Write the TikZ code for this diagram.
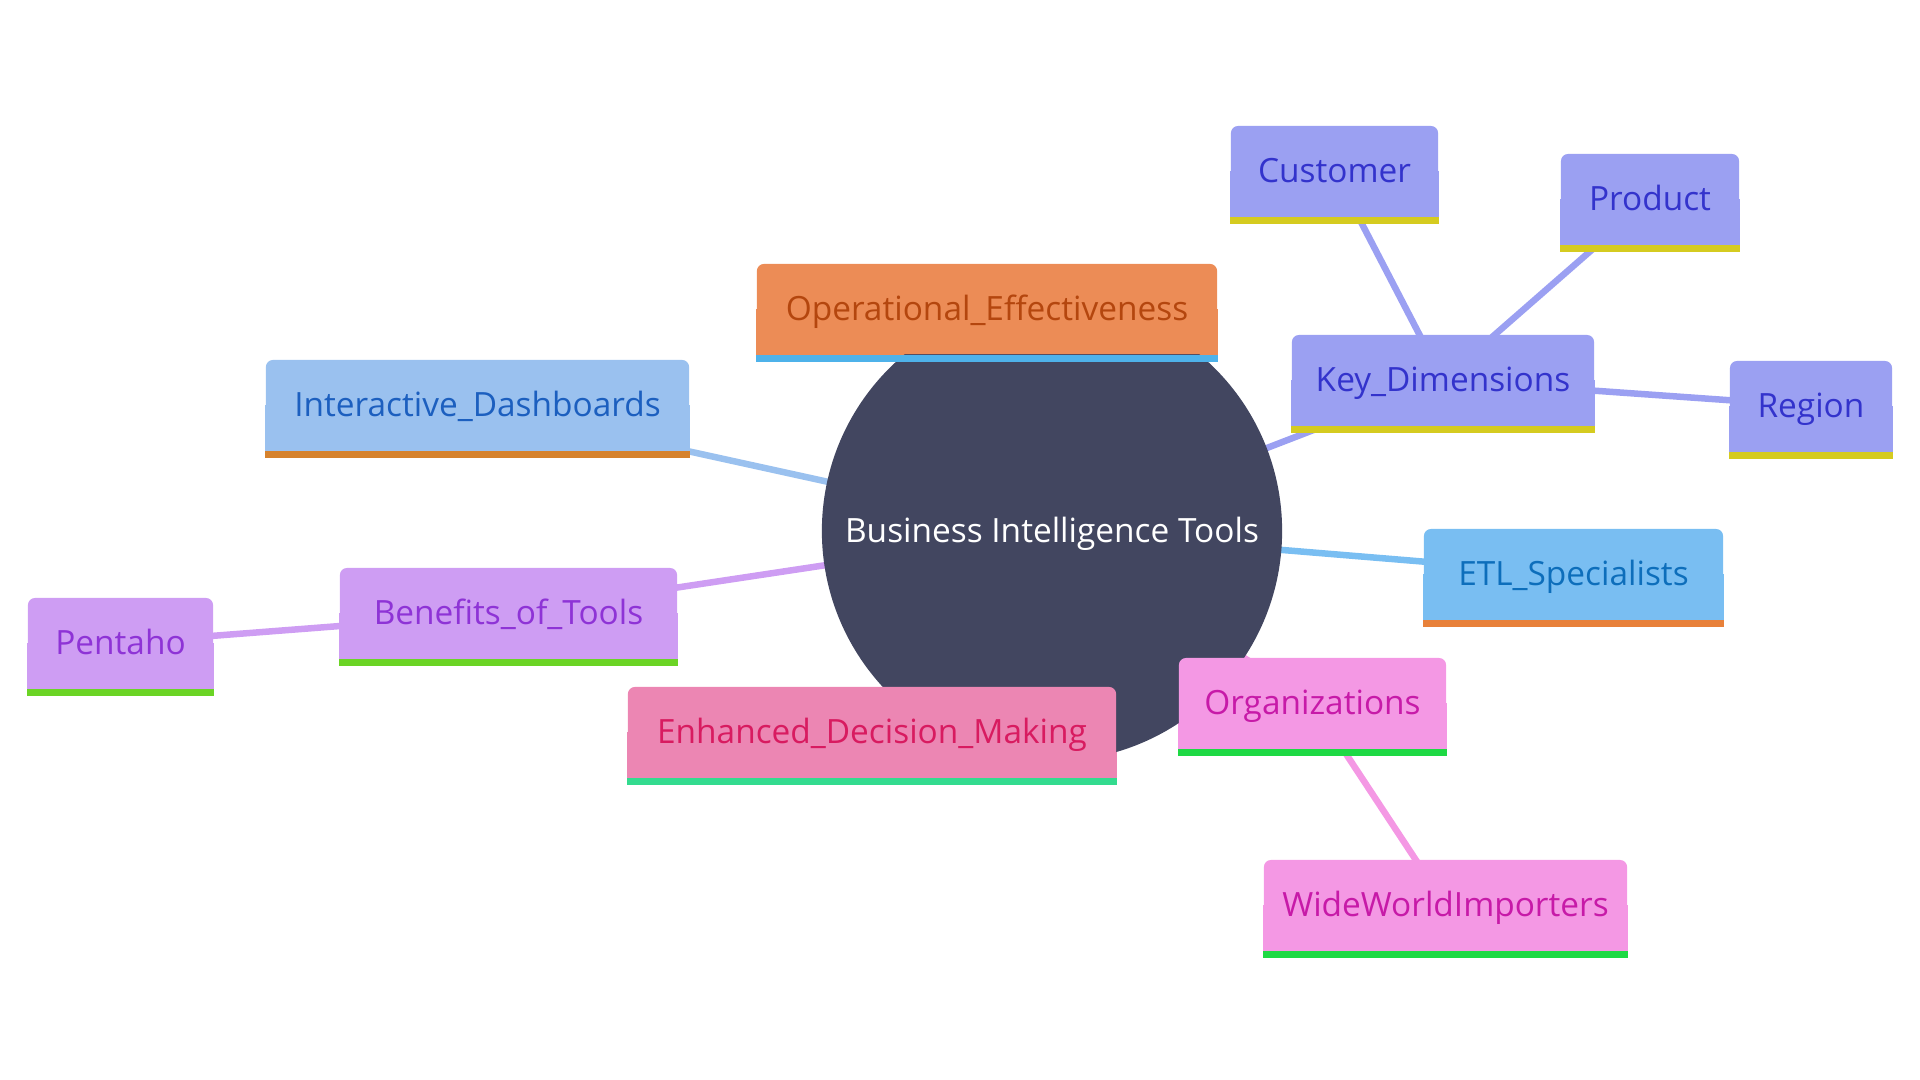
\documentclass[tikz,border=0pt]{standalone}
\usepackage{fontspec}
\setmainfont{Open Sans}
\usetikzlibrary{backgrounds}
\definecolor{bicircle}{HTML}{424660}
\definecolor{opsfill}{HTML}{EC8C56}
\definecolor{opstext}{HTML}{B4460E}
\definecolor{opsline}{HTML}{4EB2EA}
\definecolor{dashfill}{HTML}{9AC1EF}
\definecolor{dashtext}{HTML}{1C5FBF}
\definecolor{dashline}{HTML}{D6822D}
\definecolor{keyfill}{HTML}{9BA0F2}
\definecolor{keytext}{HTML}{3333CC}
\definecolor{keyline}{HTML}{D5CB20}
\definecolor{etlfill}{HTML}{79BEF2}
\definecolor{etltext}{HTML}{0D6EBB}
\definecolor{etlline}{HTML}{E8813A}
\definecolor{benfill}{HTML}{CE9DF3}
\definecolor{bentext}{HTML}{8E33D6}
\definecolor{benline}{HTML}{6BD425}
\definecolor{edmfill}{HTML}{EC86B3}
\definecolor{edmtext}{HTML}{D81B60}
\definecolor{edmline}{HTML}{33DB8F}
\definecolor{orgfill}{HTML}{F498E4}
\definecolor{orgtext}{HTML}{C71AA8}
\definecolor{orgline}{HTML}{1ED944}

\begin{document}
\begin{tikzpicture}[x=0.01cm, y=-0.01cm, line cap=round,
  every node/.style={inner sep=0pt, text height=6.8pt, text depth=0pt,
    font=\fontsize{9.5}{11}\selectfont},
  mmbox/.style={rounded corners=2pt, minimum height=0.9cm},
  mmedge/.style={line width=0.065cm}]
  \path[use as bounding box] (0,0) rectangle (1920,1080);
  % centre of the mind map; px coordinates, y downwards
  \node[circle, fill=bicircle, minimum size=4.6cm, text=white] (root)
    at (1052,531) {Business Intelligence Tools};
  \node[mmbox, fill=opsfill, text=opstext, minimum width=4.60cm] (ops)
    at (987,309) {Operational\_Effectiveness};
  \node[mmbox, fill=dashfill, text=dashtext, minimum width=4.23cm] (dash)
    at (477.5,405) {Interactive\_Dashboards};
  \node[mmbox, fill=keyfill, text=keytext, minimum width=3.02cm] (keyd)
    at (1443,380) {Key\_Dimensions};
  \node[mmbox, fill=keyfill, text=keytext, minimum width=2.07cm] (cust)
    at (1334.5,171) {Customer};
  \node[mmbox, fill=keyfill, text=keytext, minimum width=1.78cm] (prod)
    at (1650,199) {Product};
  \node[mmbox, fill=keyfill, text=keytext, minimum width=1.62cm] (reg)
    at (1811,406) {Region};
  \node[mmbox, fill=etlfill, text=etltext, minimum width=2.99cm] (etl)
    at (1573.5,574) {ETL\_Specialists};
  \node[mmbox, fill=benfill, text=bentext, minimum width=3.37cm] (ben)
    at (508.5,613) {Benefits\_of\_Tools};
  \node[mmbox, fill=benfill, text=bentext, minimum width=1.85cm] (pen)
    at (120.5,643) {Pentaho};
  \node[mmbox, fill=edmfill, text=edmtext, minimum width=4.88cm] (edm)
    at (872,732) {Enhanced\_Decision\_Making};
  \node[mmbox, fill=orgfill, text=orgtext, minimum width=2.67cm] (org)
    at (1312.5,703) {Organizations};
  \node[mmbox, fill=orgfill, text=orgtext, minimum width=3.63cm] (wwi)
    at (1445.5,905) {WideWorldImporters};
  \begin{scope}[on background layer]
    \foreach \a/\b/\c in {root/dash/dashfill, root/keyd/keyfill,
      keyd/cust/keyfill, keyd/prod/keyfill, keyd/reg/keyfill,
      root/etl/etlfill, root/ben/benfill, ben/pen/benfill,
      root/org/orgfill, org/wwi/orgfill, root/ops/opsfill, root/edm/edmfill}
      \draw[mmedge, \c] (\a.center) -- (\b.center);
    % square lower corners
    \foreach \n/\c in {ops/opsfill, dash/dashfill, keyd/keyfill, cust/keyfill,
      prod/keyfill, reg/keyfill, etl/etlfill, ben/benfill, pen/benfill,
      edm/edmfill, org/orgfill, wwi/orgfill}
      \fill[\c] (\n.south west) rectangle (\n.east);
  \end{scope}
  \foreach \n/\c in {ops/opsline, dash/dashline, keyd/keyline, cust/keyline,
    prod/keyline, reg/keyline, etl/etlline, ben/benline, pen/benline,
    edm/edmline, org/orgline, wwi/orgline}
    \fill[\c] (\n.south west) rectangle ([yshift=-0.07cm]\n.south east);
\end{tikzpicture}
\end{document}
